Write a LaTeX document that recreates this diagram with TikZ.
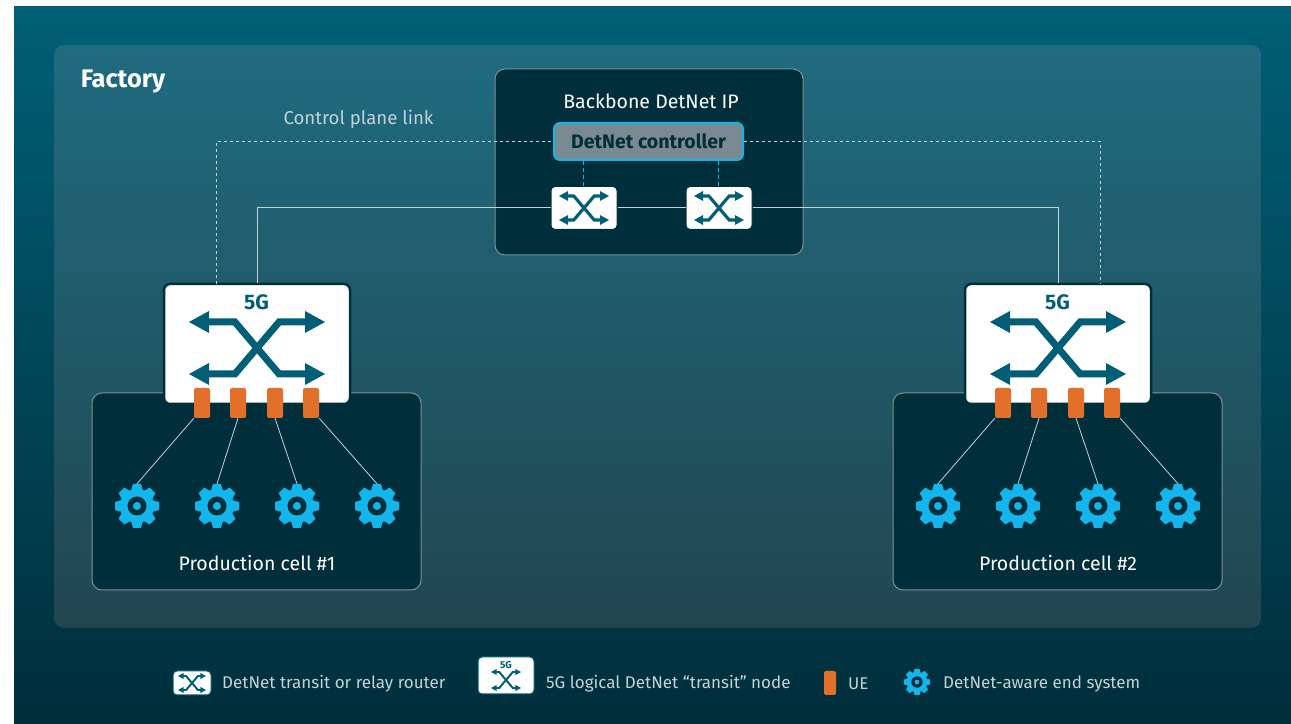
\documentclass[tikz,border=0pt]{standalone}
\usepackage{fontspec}
\setmainfont{Fira Sans}
\definecolor{bgtop}{HTML}{005F76}
\definecolor{bgdark}{HTML}{002E3B}
\definecolor{paneltop}{HTML}{1F6B80}
\definecolor{panelbot}{HTML}{21464F}
\definecolor{iconteal}{HTML}{005F76}
\definecolor{gearblue}{HTML}{13B5EA}
\definecolor{ueorange}{HTML}{E2702A}
\definecolor{edgegrey}{HTML}{7F9198}
\definecolor{linkgrey}{HTML}{C3D2D6}
\newcommand{\crossicon}[5]{%
  \begin{scope}[shift={(#1bp,#2bp)},x=1bp,y=1bp]
    \draw [iconteal,line width=#5*7bp] ({-#3+18*#5},#4) -- ({-.85*#4},#4) -- ({.85*#4},-#4) -- ({#3-18*#5},-#4);
    \draw [iconteal,line width=#5*7bp] ({-#3+18*#5},-#4) -- ({-.85*#4},-#4) -- ({.85*#4},#4) -- ({#3-18*#5},#4);
    \fill [iconteal] (-#3,#4) -- ({-#3+20*#5},{#4+11*#5}) -- ({-#3+20*#5},{#4-11*#5}) -- cycle;
    \fill [iconteal] (-#3,-#4) -- ({-#3+20*#5},{-#4+11*#5}) -- ({-#3+20*#5},{-#4-11*#5}) -- cycle;
    \fill [iconteal] (#3,#4) -- ({#3-20*#5},{#4+11*#5}) -- ({#3-20*#5},{#4-11*#5}) -- cycle;
    \fill [iconteal] (#3,-#4) -- ({#3-20*#5},{-#4+11*#5}) -- ({#3-20*#5},{-#4-11*#5}) -- cycle;
  \end{scope}}
\newcommand{\gearnode}[4]{%
  \node (#1) at (#2bp,#3bp) [circle,inner sep=0pt,minimum size=#4*44bp] {};
  \begin{scope}[shift={(#2bp,#3bp)},x=1bp,y=1bp,scale=#4]
    \fill [gearblue] (0,0) circle (17);
    \foreach \ang in {0,45,...,315}
      \fill [gearblue,rotate=\ang] (-6,15) -- (-4,22) -- (4,22) -- (6,15) -- cycle;
    \fill [bgdark] (0,0) circle (9.5);
    \fill [gearblue] (0,0) circle (4);
  \end{scope}}

\begin{document}
\begin{tikzpicture}[>=latex]
      \tikzstyle{every node}=[font=\fontsize{19.5bp}{22bp}\selectfont,text=white]
      \tikzstyle{cellbox}=[draw=edgegrey,line width=1bp,fill=bgdark,rounded corners=10bp,inner sep=0pt]
      \tikzstyle{routerbox}=[draw=bgdark,line width=1bp,fill=white,rounded corners=4bp,inner sep=0pt,minimum width=66bp,minimum height=43bp]
      \tikzstyle{legbox}=[draw=iconteal,line width=1bp,fill=white,rounded corners=4bp,inner sep=0pt]
      \tikzstyle{swbox}=[draw=bgdark,line width=2.5bp,fill=white,rounded corners=6bp,inner sep=0pt,minimum width=186bp,minimum height=120bp]
      \tikzstyle{uebox}=[fill=ueorange,rounded corners=2bp,inner sep=0pt,minimum width=16bp,minimum height=30bp]
      \tikzstyle{legendtext}=[anchor=west,inner sep=0pt,text=linkgrey,font=\fontsize{17bp}{20bp}\selectfont]
      \tikzstyle{solidlink}=[linkgrey,line width=1bp]
      \tikzstyle{ctrllink}=[linkgrey,line width=1bp,dash pattern=on 3bp off 3bp]
      \tikzstyle{uelink}=[linkgrey,line width=.8bp]
      %%
  \useasboundingbox (0bp,0bp) rectangle (1291bp,724bp);
  \shade [top color=bgtop,bottom color=bgdark] (14bp,0bp) rectangle (1291bp,717bp);
  \shade [top color=paneltop,bottom color=panelbot,rounded corners=10bp] (54bp,96bp) rectangle (1261bp,679bp);
  \node (factory) at (123bp,642.5bp) [font=\fontsize{25.4bp}{28bp}\selectfont\bfseries] {Factory};
  \node (planelabel) at (358.5bp,604.5bp) [text=linkgrey,font=\fontsize{18.6bp}{22bp}\selectfont] {Control plane link};
%
  \node (backbone) at (649bp,562bp) [cellbox,minimum width=308bp,minimum height=186bp] {};
  \node (backbonelabel) at (651bp,622.5bp) {Backbone DetNet IP};
  \node (ctrl) at (648.5bp,582.5bp) [draw=gearblue,line width=2bp,fill=edgegrey!95!black,rounded corners=6bp,inner sep=0pt,minimum width=189bp,minimum height=37bp,text=bgdark,font=\fontsize{19.5bp}{22bp}\selectfont\bfseries] {DetNet controller};
  \node (router1) at (584bp,516bp) [routerbox] {};
  \node (router2) at (719bp,516bp) [routerbox] {};
  \crossicon{584}{516}{25}{12}{.45}
  \crossicon{719}{516}{25}{12}{.45}
%
  \node (cell1) at (256.5bp,232.5bp) [cellbox,minimum width=329bp,minimum height=197bp] {};
  \node (cell2) at (1057.5bp,232.5bp) [cellbox,minimum width=329bp,minimum height=197bp] {};
  \node (celllabel1) at (257bp,160.5bp) {Production cell \#1};
  \node (celllabel2) at (1058bp,160.5bp) {Production cell \#2};
  \node (sw1) at (257bp,380bp) [swbox] {};
  \node (sw2) at (1058bp,380bp) [swbox] {};
  \node (swlabel1) at (256.5bp,422bp) [text=iconteal,font=\fontsize{21bp}{24bp}\selectfont\bfseries] {5G};
  \node (swlabel2) at (1057.5bp,422bp) [text=iconteal,font=\fontsize{21bp}{24bp}\selectfont\bfseries] {5G};
  \crossicon{257}{376}{68}{26}{1}
  \crossicon{1058}{376}{68}{26}{1}
%
  \node (ue1) at (202bp,321bp) [uebox] {};
  \node (ue2) at (238bp,321bp) [uebox] {};
  \node (ue3) at (275bp,321bp) [uebox] {};
  \node (ue4) at (311bp,321bp) [uebox] {};
  \node (ue5) at (1003bp,321bp) [uebox] {};
  \node (ue6) at (1039bp,321bp) [uebox] {};
  \node (ue7) at (1076bp,321bp) [uebox] {};
  \node (ue8) at (1112bp,321bp) [uebox] {};
  \gearnode{gear1}{137}{218}{1}
  \gearnode{gear2}{217}{218}{1}
  \gearnode{gear3}{297}{218}{1}
  \gearnode{gear4}{377}{218}{1}
  \gearnode{gear5}{938}{218}{1}
  \gearnode{gear6}{1018}{218}{1}
  \gearnode{gear7}{1098}{218}{1}
  \gearnode{gear8}{1178}{218}{1}
%
  \draw [uelink] (ue1.south west) -- (gear1.north);
  \draw [uelink] (ue2.south) -- (gear2.north);
  \draw [uelink] (ue3.south) -- (gear3.north);
  \draw [uelink] (ue4.south east) -- (gear4.north);
  \draw [uelink] (ue5.south west) -- (gear5.north);
  \draw [uelink] (ue6.south) -- (gear6.north);
  \draw [uelink] (ue7.south) -- (gear7.north);
  \draw [uelink] (ue8.south east) -- (gear8.north);
  \draw [solidlink] (sw1.north) |- (router1.west);
  \draw [solidlink] (router1.east) -- (router2.west);
  \draw [solidlink] (router2.east) -| (sw2.north);
  \coordinate (tapleft) at (216bp,440bp);
  \coordinate (tapright) at (1100bp,440bp);
  \draw [ctrllink] (tapleft) |- (ctrl.west);
  \draw [ctrllink] (ctrl.east) -| (tapright);
  \coordinate (dropleft) at (583bp,537.5bp);
  \coordinate (dropright) at (718bp,537.5bp);
  \draw [gearblue,line width=1bp,dash pattern=on 4bp off 3bp] (dropleft) -- (dropleft |- ctrl.south);
  \draw [gearblue,line width=1bp,dash pattern=on 4bp off 3bp] (dropright) -- (dropright |- ctrl.south);
%
  \node (legrouter) at (192bp,41bp) [legbox,minimum width=38bp,minimum height=24bp] {};
  \crossicon{192}{41}{14}{7}{.28}
  \node (legroutertext) at (222bp,40.5bp) [legendtext] {DetNet transit or relay router};
  \node (legsw) at (506bp,48.5bp) [legbox,minimum width=56bp,minimum height=37bp] {};
  \node (legswlabel) at (506bp,59bp) [text=iconteal,font=\fontsize{10bp}{11bp}\selectfont\bfseries] {5G};
  \crossicon{506}{44}{15}{8}{.28}
  \node (legswtext) at (546bp,40.5bp) [legendtext] {5G logical DetNet “transit” node};
  \node (legue) at (830bp,41bp) [uebox,minimum width=12bp,minimum height=24bp] {};
  \node (leguetext) at (848bp,40.5bp) [legendtext] {UE};
  \gearnode{leggear}{917}{42}{.6}
  \node (leggeartext) at (943bp,40.5bp) [legendtext] {DetNet-aware end system};
%
\end{tikzpicture}
\end{document}
